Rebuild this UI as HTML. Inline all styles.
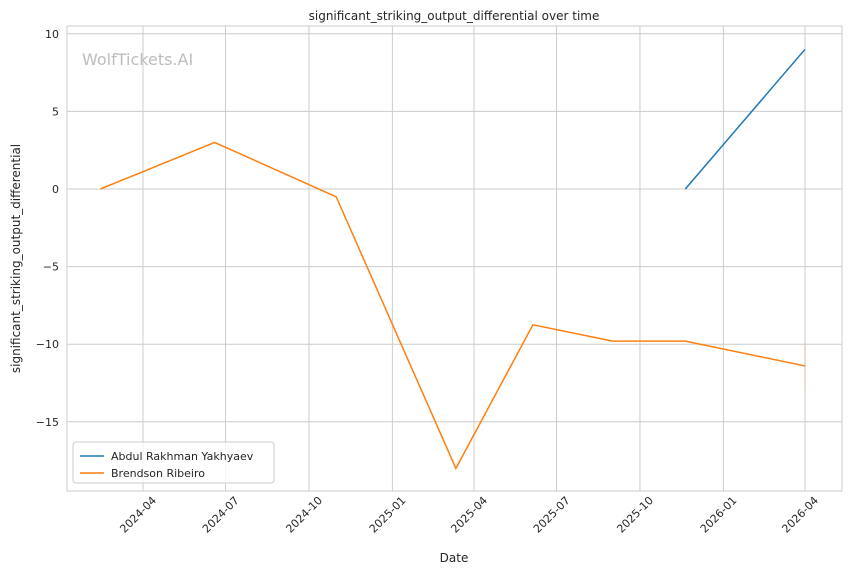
<!DOCTYPE html>
<html><head><meta charset="utf-8"><style>
body{margin:0;background:#fff;}
svg text{font-family:"DejaVu Sans","Liberation Sans",sans-serif;fill:#262626;}
</style></head><body>
<svg id="chart" width="850" height="575"></svg>
<script>
const tickDates=["2024-04-01","2024-07-01","2024-10-01","2025-01-01","2025-04-01","2025-07-01","2025-10-01","2026-01-01","2026-04-01"];
const tickLabels=["2024-04","2024-07","2024-10","2025-01","2025-04","2025-07","2025-10","2026-01","2026-04"];
const yTicks=[10,5,0,-5,-10,-15];
const seriesNames=["Abdul Rakhman Yakhyaev","Brendson Ribeiro"];
const seriesColors=["#1f77b4","#ff7f0e"];
const blueDates=["2025-11-20","2026-04-01"];
const blueValues=[0,9];
const orangeDates=["2024-02-14","2024-06-19","2024-10-31","2025-03-12","2025-06-05","2025-09-01","2025-11-20","2026-04-01"];
const orangeValues=[0,3,-0.5,-18,-8.75,-9.8,-9.8,-11.4];

const svg=document.getElementById('chart');
const NS="http://www.w3.org/2000/svg";
const L=67,R=842,T=26,B=491;
const d0=Date.parse("2024-04-01"),d1=Date.parse("2026-04-01");
const x=d=>143+(Date.parse(d)-d0)/(d1-d0)*(805-143);
const y=v=>189-v*15.52;
function el(tag,attrs,text){const e=document.createElementNS(NS,tag);for(const k in attrs)e.setAttribute(k,attrs[k]);if(text!==undefined)e.textContent=text;svg.appendChild(e);return e;}

yTicks.forEach(v=>{
  const g=el('line',{x1:L,x2:R,y1:y(v),y2:y(v),stroke:'#cccccc','stroke-width':1});
  
  
  const t=el('text',{x:L-8,y:y(v)+4,'text-anchor':'end','font-size':11},String(v).replace('-','\u2212'));
  
  
});
tickDates.forEach((d,i)=>{
  const g=el('line',{x1:x(d),x2:x(d),y1:T,y2:B,stroke:'#cccccc','stroke-width':1});
  
  
  const t=el('text',{x:0,y:0,'text-anchor':'end','font-size':11,transform:`translate(${x(d)+14},${B+10}) rotate(-45)`},tickLabels[i]);
  
  
});
const fr=el('rect',{x:L,y:T,width:R-L,height:B-T,fill:'none',stroke:'#cccccc','stroke-width':1});



const wm=el('text',{x:82,y:65,'font-size':16,style:'fill:#bdbdbd'},'WolfTickets.AI');



const band=el('line',{x1:x("2026-04-01"),x2:x("2026-04-01"),y1:y(-9.8),y2:y(-13),stroke:'#ff7f0e','stroke-opacity':0.2,'stroke-width':1});



function line(dates,vals,color,name){
  const p=el('polyline',{points:dates.map((d,i)=>x(d)+','+y(vals[i])).join(' '),fill:'none',stroke:color,'stroke-width':1.5});
  
  
}
line(blueDates,blueValues,seriesColors[0],'series-abdul-rakhman-yakhyaev');
line(orangeDates,orangeValues,seriesColors[1],'series-brendson-ribeiro');

const tt=el('text',{x:454,y:20,'text-anchor':'middle','font-size':12},'significant_striking_output_differential over time');


const xt=el('text',{x:454,y:562,'text-anchor':'middle','font-size':12},'Date');


const yt=el('text',{x:0,y:0,'text-anchor':'middle','font-size':12,transform:`translate(20,${(T+B)/2}) rotate(-90)`},'significant_striking_output_differential');



const lg=el('rect',{x:73,y:442,width:201,height:41,fill:'#fff','fill-opacity':0.8,stroke:'#cccccc',rx:3});


seriesNames.forEach((n,i)=>{
  const yy=456+i*17;
  const l=el('line',{x1:80,x2:104,y1:yy,y2:yy,stroke:seriesColors[i],'stroke-width':1.5});
  
  
  const t=el('text',{x:111,y:yy+4,'font-size':11},n);
  
  
});
</script>
</body></html>
